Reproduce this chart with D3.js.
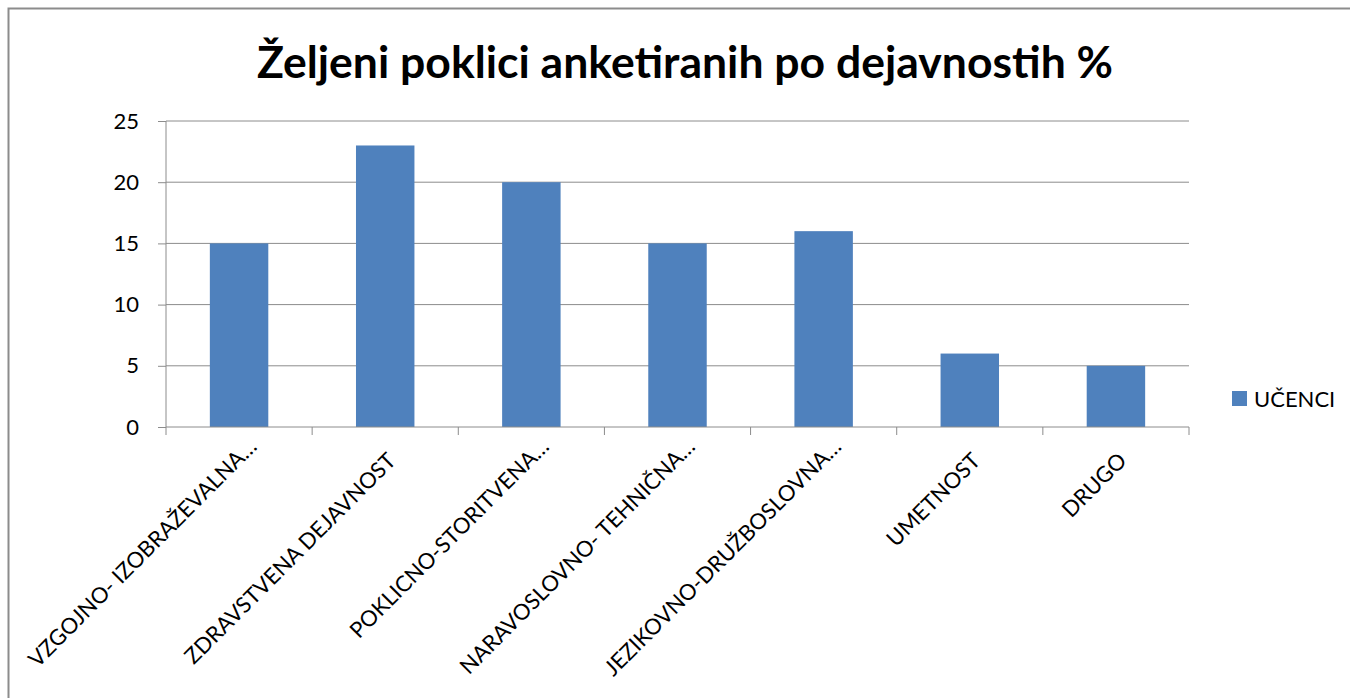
<!DOCTYPE html>
<html lang="sl">
<head>
  <meta charset="UTF-8">
  <title>Željeni poklici</title>
  <style>
    body { margin: 0; background: #fff; }
    svg { font-family: Lato, "Open Sans", sans-serif; }
    .grid line { stroke: #8c8c8c; stroke-width: 1; }
  </style>
</head>
<body>
<svg id="chart" width="1350" height="698"></svg>
<script src="https://d3js.org/d3.v7.min.js"></script>
<script>
  const categories = [
    'VZGOJNO- IZOBRAŽEVALNA…',
    'ZDRAVSTVENA DEJAVNOST',
    'POKLICNO-STORITVENA…',
    'NARAVOSLOVNO- TEHNIČNA…',
    'JEZIKOVNO-DRUŽBOSLOVNA…',
    'UMETNOST',
    'DRUGO'
  ];
  const ucenci = [15, 23, 20, 15, 16, 6, 5];
  const yTicks = [0, 5, 10, 15, 20, 25];
  const seriesName = 'UČENCI';

  const svg = d3.select('#chart');
  const plot = { left: 166, right: 1189, top: 121, bottom: 427 };

  // frame
  svg.append('rect')
    .attr('x', 8.5).attr('y', 8.5)
    .attr('width', 1360).attr('height', 720)
    .attr('fill', 'none').attr('stroke', '#8c8c8c').attr('stroke-width', 2);

  svg.append('text')
    .attr('x', 685).attr('y', 78)
    .attr('text-anchor', 'middle')
    .attr('font-size', 44.5).attr('font-weight', 'bold')
    .text('Željeni poklici anketiranih po dejavnostih %');

  const x = d3.scaleBand().domain(categories).range([plot.left, plot.right]).paddingInner(0.6).paddingOuter(0.3);
  const xCat = d3.scaleBand().domain(categories).range([plot.left, plot.right]);
  const y = d3.scaleLinear().domain([0, 25]).range([plot.bottom, plot.top]);

  // gridlines
  svg.append('g').attr('class', 'grid')
    .selectAll('line').data(yTicks.filter(d => d > 0)).join('line')
    .attr('x1', plot.left).attr('x2', plot.right)
    .attr('y1', d => y(d)).attr('y2', d => y(d));

  // y axis
  const yAxis = svg.append('g')
    .attr('transform', `translate(${plot.left},0)`)
    .call(d3.axisLeft(y).tickValues(yTicks).tickSize(8).tickPadding(19));
  yAxis.selectAll('line, path').attr('stroke', '#8c8c8c');
  yAxis.select('.domain').attr('d', `M0,${plot.top}V${plot.bottom}`);
  yAxis.selectAll('text').attr('font-size', 22).attr('fill', '#000').attr('font-family', 'Lato, sans-serif');

  // bars
  svg.selectAll('.bar').data(ucenci).join('rect')
    .attr('class', 'bar')
    .attr('x', (d, i) => x(categories[i]))
    .attr('width', x.bandwidth())
    .attr('y', d => y(d))
    .attr('height', d => plot.bottom - y(d))
    .attr('fill', '#4f81bd');

  // x axis
  const bounds = categories.map(c => xCat(c)).concat([plot.right]);
  svg.append('g').selectAll('line').data(bounds).join('line')
    .attr('x1', d => d).attr('x2', d => d)
    .attr('y1', plot.bottom).attr('y2', plot.bottom + 8)
    .attr('stroke', '#8c8c8c');
  svg.append('line')
    .attr('x1', plot.left).attr('x2', plot.right)
    .attr('y1', plot.bottom).attr('y2', plot.bottom)
    .attr('stroke', '#8c8c8c');

  // truncated labels sit a bit higher than the full ones
  svg.append('g').selectAll('text').data(categories).join('text')
    .attr('transform', d => {
      const cut = d.endsWith('…');
      const cx = xCat(d) + xCat.bandwidth() / 2 + (cut ? 19 : 12);
      const cy = plot.bottom + (cut ? 21 : 35);
      return `translate(${cx},${cy}) rotate(-45)`;
    })
    .attr('text-anchor', 'end')
    .attr('font-size', 22)
    .text(d => d);

  // legend
  svg.append('rect')
    .attr('x', 1232).attr('y', 391).attr('width', 15).attr('height', 15)
    .attr('fill', '#4f81bd');
  svg.append('text')
    .attr('x', 1254).attr('y', 407)
    .attr('font-size', 22)
    .text(seriesName);
</script>
</body>
</html>
